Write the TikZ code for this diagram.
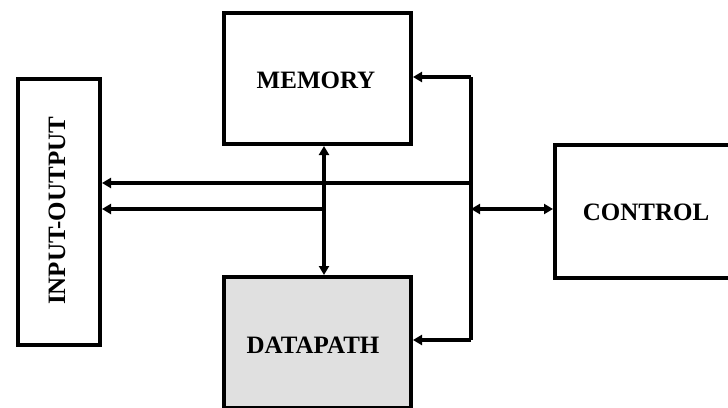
\documentclass[tikz,border=0pt]{standalone}
\usepackage{fontspec}
\setmainfont{Liberation Serif}
\usetikzlibrary{arrows.meta}
\begin{document}
\begin{tikzpicture}[x=1pt,y=-1pt,
  blk/.style={draw=black,line width=4pt,inner sep=0pt},
  lbl/.style={font=\fontsize{25}{28}\selectfont\bfseries,inner sep=0pt},
  wire/.style={line width=3.4pt},
  arr/.style={wire,-{Triangle[length=9pt,width=10pt]}},
  darr/.style={wire,{Triangle[length=9pt,width=10pt]}-{Triangle[length=9pt,width=10pt]}}]
\useasboundingbox (0,0) rectangle (728,407);
\clip (0,0) rectangle (728,407);
\fill[white] (0,0) rectangle (728,407);
% boxes
\node[blk,minimum width=82pt,minimum height=266pt,anchor=north west] (io) at (16,77) {};
\node[blk,minimum width=187pt,minimum height=131pt,anchor=north west] (mem) at (222,11) {};
\node[blk,fill={rgb,255:red,224;green,224;blue,224},minimum width=187pt,minimum height=131pt,anchor=north west] (dp) at (222,275) {};
\node[blk,minimum width=200pt,minimum height=133pt,anchor=north west] (ctl) at (553,143) {};
% labels
\node[lbl,rotate=90] (iol) at (57,211) {INPUT-OUTPUT};
\node[lbl] (meml) at (316,80) {MEMORY};
\node[lbl] (dpl) at (313,345) {DATAPATH};
\node[lbl] (ctll) at (646,212) {CONTROL};
% bus coordinates
\coordinate (bt) at (471,77);
\coordinate (bb) at (471,340);
\coordinate (b1) at (471,183);
\coordinate (b2) at (471,209);
\coordinate (v2) at (324,209);
% connectors
\draw[wire] (bt) -- (bb);
\draw[arr] (bt) -- (mem.east |- bt);
\draw[arr] (bb) -- (dp.east |- bb);
\draw[arr] (b1) -- (io.east |- b1);
\draw[arr] (v2) -- (io.east |- v2);
\draw[darr] (mem.south -| v2) -- (dp.north -| v2);
\draw[darr] (b2) -- (ctl.west |- b2);
\end{tikzpicture}
\end{document}
